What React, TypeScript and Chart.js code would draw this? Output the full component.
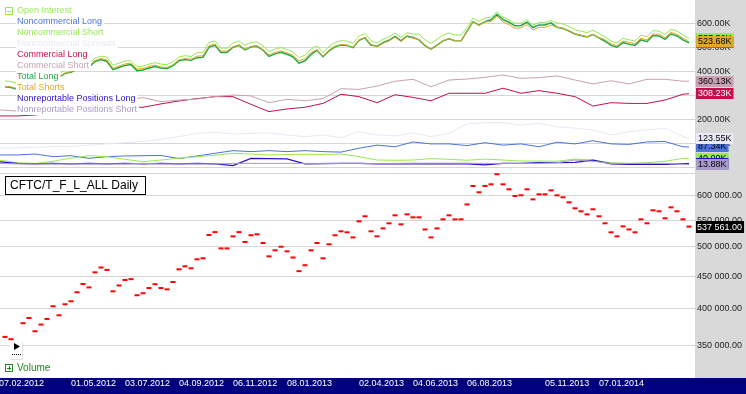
import React, { useEffect, useRef } from 'react';
import { Chart, registerables } from 'chart.js';

Chart.register(...registerables);

const FONT = '"Liberation Sans", Arial, sans-serif';

// Weekly open interest (thousands of contracts), one value per week index 0..114
const OPEN_INTEREST = [
  361.6, 358.6, 352.0, 379.8, 387.0, 369.0, 378.0, 385.7, 403.7, 390.8,
  406.6, 411.0, 424.5, 437.3, 432.0, 456.0, 464.0, 460.0, 426.0, 435.0,
  443.7, 445.0, 420.0, 423.0, 431.0, 437.0, 431.0, 429.0, 440.5, 461.0,
  466.0, 462.7, 477.9, 479.6, 521.5, 527.0, 497.0, 497.0, 519.0, 527.0,
  508.6, 521.0, 522.8, 506.7, 483.0, 493.6, 500.0, 491.8, 481.0, 458.0,
  467.8, 493.6, 506.7, 479.6, 504.4, 521.0, 528.5, 526.6, 517.0, 547.8,
  557.8, 528.5, 519.0, 534.0, 543.9, 559.7, 541.9, 561.7, 555.7, 555.7,
  532.0, 517.0, 534.0, 551.7, 559.7, 551.7, 551.7, 582.0, 622.0, 608.0,
  622.0, 625.7, 648.7, 625.7, 614.6, 600.0, 601.5, 614.6, 592.8, 603.6,
  603.6, 612.3, 601.5, 597.2, 586.5, 574.0, 567.9, 561.7, 572.0, 557.8,
  543.9, 526.6, 519.0, 538.0, 532.0, 526.6, 551.7, 543.9, 569.9, 567.9,
  553.8, 576.0, 567.9, 551.7, 537.561,
];

const TOTAL_SHORTS = [
  339.6, 336.6, 330.0, 357.8, 371.0, 353.0, 362.0, 369.7, 387.7, 378.8,
  394.6, 399.0, 412.5, 425.3, 422.0, 446.0, 454.0, 448.0, 414.0, 423.0,
  431.7, 435.0, 410.0, 413.0, 421.0, 427.0, 419.0, 417.0, 428.5, 449.0,
  454.0, 450.7, 463.9, 465.6, 507.5, 515.0, 485.0, 485.0, 503.0, 511.0,
  492.6, 505.0, 506.8, 490.7, 469.0, 479.6, 486.0, 477.8, 467.0, 444.0,
  453.8, 479.6, 490.7, 463.6, 488.4, 505.0, 512.5, 510.6, 501.0, 531.8,
  541.8, 512.5, 502.0, 517.0, 526.9, 542.7, 524.9, 544.7, 538.7, 532.7,
  509.0, 494.0, 511.0, 528.7, 536.7, 528.7, 528.7, 566.0, 606.0, 592.0,
  606.0, 607.7, 630.7, 605.7, 594.6, 580.0, 581.5, 594.6, 572.8, 583.6,
  583.6, 592.3, 584.5, 580.2, 569.5, 557.0, 550.9, 544.7, 555.0, 540.8,
  532.9, 515.6, 508.0, 527.0, 521.0, 515.6, 538.7, 530.9, 556.9, 554.9,
  540.8, 563.0, 554.9, 538.7, 523.68,
];

const TOTAL_LONG = [
  336.6, 333.6, 327.0, 354.8, 367.0, 349.0, 358.0, 365.7, 383.7, 376.8,
  392.6, 397.0, 410.5, 423.3, 418.0, 442.0, 450.0, 442.0, 408.0, 417.0,
  425.7, 429.0, 404.0, 407.0, 415.0, 421.0, 415.0, 413.0, 424.5, 445.0,
  450.0, 446.7, 457.9, 459.6, 501.5, 509.0, 479.0, 479.0, 501.0, 509.0,
  490.6, 503.0, 504.8, 488.7, 463.0, 473.6, 480.0, 471.8, 461.0, 435.0,
  444.8, 470.6, 488.7, 461.6, 486.4, 503.0, 510.5, 508.6, 499.0, 529.8,
  539.8, 510.5, 505.0, 520.0, 529.9, 545.7, 527.9, 547.7, 541.7, 531.7,
  508.0, 493.0, 510.0, 527.7, 535.7, 527.7, 527.7, 567.0, 607.0, 593.0,
  607.0, 614.7, 637.7, 615.7, 604.6, 590.0, 591.5, 604.6, 582.8, 593.6,
  593.6, 602.3, 583.5, 579.2, 568.5, 556.0, 549.9, 543.7, 554.0, 539.8,
  525.9, 508.6, 501.0, 520.0, 514.0, 508.6, 531.7, 523.9, 549.9, 547.9,
  533.8, 556.0, 547.9, 531.7, 519.12,
];

// Other series, read every third week (week indices below)
const SAMPLE_WEEKS = [
  -1, 2, 5, 8, 11, 14, 17, 20, 23, 26, 29, 32, 35, 38, 41, 44, 47, 50, 53, 56,
  59, 62, 65, 68, 71, 74, 77, 80, 83, 86, 89, 92, 95, 98, 101, 104, 107, 110, 113, 114,
];
const NONCOMM_LONG = [
  54, 54, 58, 47, 51, 40, 47, 50, 51, 52, 39, 50, 61, 72, 68, 72, 68, 72, 68, 66,
  82, 95, 88, 108, 100, 100, 93, 105, 95, 100, 88, 107, 100, 113, 100, 98, 108, 110, 88, 87.34,
];
const NONCOMM_SHORT = [
  33, 22, 19, 28, 41, 51, 47, 36, 26, 33, 41, 47, 53, 61, 58, 54, 56, 57, 56, 58,
  47, 33, 32, 33, 39, 36, 32, 37, 33, 29, 29, 28, 37, 33, 22, 19, 22, 28, 40, 40.0,
];
const NONCOMM_SPREADS = [
  82, 84, 86, 89, 89, 95, 100, 105, 111, 119, 130, 144, 148, 141, 144, 146, 137, 130, 137, 126,
  151, 137, 133, 146, 130, 144, 183, 188, 188, 178, 185, 171, 165, 158, 137, 151, 158, 165, 130, 123.55,
];
const COMM_LONG = [
  216, 216, 220, 228, 236, 243, 248, 252, 252, 266, 278, 288, 296, 296, 264, 234, 245, 252, 268, 306,
  296, 271, 304, 293, 279, 310, 310, 310, 331, 310, 321, 310, 296, 257, 271, 268, 268, 282, 306, 308.23,
];
const COMM_SHORT = [
  241, 236, 245, 252, 262, 272, 276, 282, 292, 275, 282, 286, 296, 303, 299, 271, 285, 279, 288, 329,
  326, 340, 360, 368, 337, 365, 369, 376, 386, 372, 375, 382, 365, 349, 362, 349, 368, 368, 360, 360.13,
];
const NONREP_LONG = [
  26, 19, 17, 19, 17, 19, 17, 19, 17, 19, 17, 19, 17, 10, 40, 39, 38, 17, 18, 19,
  19, 17, 18, 17, 17, 17, 17, 13, 19, 19, 22, 22, 23, 33, 17, 15, 15, 15, 18, 18.44,
];
const NONREP_SHORT = [
  19, 17, 17, 17, 17, 17, 17, 17, 19, 17, 17, 17, 17, 19, 19, 19, 19, 19, 19, 19,
  19, 19, 19, 20, 20, 20, 20, 19, 19, 19, 19, 22, 33, 28, 19, 19, 19, 19, 16, 13.88,
];

// Date labels on the time axis (week index where each label starts)
const DATE_TICK_WEEKS = [-1, 11, 20, 29, 38, 47, 59, 68, 77, 90, 99];
const DATE_TICK_LABELS = [
  '07.02.2012', '01.05.2012', '03.07.2012', '04.09.2012', '06.11.2012', '08.01.2013',
  '02.04.2013', '04.06.2013', '06.08.2013', '05.11.2013', '07.01.2014',
];

const TOP_TICKS = [0, 100, 200, 300, 400, 500, 600];
const BOTTOM_TICKS = [350, 400, 450, 500, 550, 600, 650];

const WEEKS = OPEN_INTEREST.map((_, i) => i);

type Series = { name: string; color: string; tagText: string; width: number; weeks: number[]; values: number[] };

const SERIES: Series[] = [
  { name: 'Open Interest', color: '#96EA52', tagText: '#000', width: 1, weeks: WEEKS, values: OPEN_INTEREST },
  { name: 'Noncommercial Long', color: '#4D72DA', tagText: '#000', width: 1, weeks: SAMPLE_WEEKS, values: NONCOMM_LONG },
  { name: 'Noncommercial Short', color: '#96EA52', tagText: '#000', width: 1, weeks: SAMPLE_WEEKS, values: NONCOMM_SHORT },
  { name: 'Noncommercial Spreads', color: '#E8E8F6', tagText: '#000', width: 1, weeks: SAMPLE_WEEKS, values: NONCOMM_SPREADS },
  { name: 'Commercial Long', color: '#C2104C', tagText: '#FFF', width: 1, weeks: SAMPLE_WEEKS, values: COMM_LONG },
  { name: 'Commercial Short', color: '#C9A1B3', tagText: '#000', width: 1, weeks: SAMPLE_WEEKS, values: COMM_SHORT },
  { name: 'Total Long', color: '#22A644', tagText: '#000', width: 1.5, weeks: WEEKS, values: TOTAL_LONG },
  { name: 'Total Shorts', color: '#E2A929', tagText: '#000', width: 1, weeks: WEEKS, values: TOTAL_SHORTS },
  { name: 'Nonreportable Positions Long', color: '#2A12C2', tagText: '#FFF', width: 1.2, weeks: SAMPLE_WEEKS, values: NONREP_LONG },
  { name: 'Nonreportable Positions Short', color: '#AA9ACA', tagText: '#000', width: 1, weeks: SAMPLE_WEEKS, values: NONREP_SHORT },
];

const fmtK = (v: number) => v.toFixed(2) + 'K';
const fmtFull = (vK: number) => {
  const n = Math.round(vK * 1000);
  const th = Math.floor(n / 1000);
  const rest = String(n % 1000).padStart(3, '0');
  return (th > 0 ? th + ' ' + rest : String(n % 1000)) + '.00';
};

const zeroPad = (s: any) => {
  s.paddingTop = 0;
  s.paddingBottom = 0;
  s.paddingLeft = 0;
  s.paddingRight = 0;
};

const decorPlugin = {
  id: 'decor',
  beforeDraw(chart: any) {
    const { ctx, chartArea, scales } = chart;
    const xs = scales.x;
    ctx.save();
    ctx.fillStyle = '#FFFFFF';
    ctx.fillRect(0, 0, chart.width, chart.height);
    ctx.fillStyle = '#D9D9D9';
    ctx.fillRect(chartArea.right, 0, chart.width - chartArea.right, xs.top);
    ctx.fillStyle = '#000080';
    ctx.fillRect(0, xs.top, chart.width, chart.height - xs.top);
    ctx.restore();
  },
  afterDatasetsDraw(chart: any) {
    const { ctx } = chart;
    ctx.save();
    // legend of the upper panel
    ctx.font = `9px ${FONT}`;
    ctx.textBaseline = 'middle';
    SERIES.forEach((s, i) => {
      const top = 5 + 11 * i;
      const w = ctx.measureText(s.name).width;
      ctx.fillStyle = '#FFFFFF';
      ctx.fillRect(16, top, w + 3, 11);
      ctx.fillStyle = s.color;
      ctx.fillText(s.name, 17, top + 6);
    });
    // collapse box
    ctx.strokeStyle = '#96EA52';
    ctx.lineWidth = 1;
    ctx.strokeRect(5.5, 7.5, 7, 7);
    ctx.beginPath();
    ctx.moveTo(7, 11.5);
    ctx.lineTo(11, 11.5);
    ctx.stroke();

    // title box of the lower panel
    ctx.fillStyle = '#FFFFFF';
    ctx.fillRect(5, 176, 141, 19);
    ctx.strokeStyle = '#000000';
    ctx.strokeRect(5.5, 176.5, 140, 18);
    ctx.font = `12px ${FONT}`;
    ctx.fillStyle = '#000000';
    ctx.fillText('CFTC/T_F_L_ALL Daily', 10, 186);

    // play button
    ctx.fillStyle = '#FFFFFF';
    ctx.fillRect(10, 341, 13, 18);
    ctx.strokeStyle = '#E4E4E4';
    ctx.beginPath();
    ctx.moveTo(22.5, 341);
    ctx.lineTo(22.5, 359.5);
    ctx.lineTo(10, 359.5);
    ctx.stroke();
    ctx.fillStyle = '#000000';
    ctx.beginPath();
    ctx.moveTo(14, 343);
    ctx.lineTo(20, 346.5);
    ctx.lineTo(14, 350);
    ctx.closePath();
    ctx.fill();
    for (let x = 12; x <= 20; x += 2) ctx.fillRect(x, 354, 1, 1);

    // collapsed volume pane
    ctx.strokeStyle = '#1E8A1E';
    ctx.strokeRect(5.5, 364.5, 7, 7);
    ctx.beginPath();
    ctx.moveTo(7, 368.5);
    ctx.lineTo(11, 368.5);
    ctx.moveTo(9.5, 366);
    ctx.lineTo(9.5, 370);
    ctx.stroke();
    ctx.font = `10px ${FONT}`;
    ctx.fillStyle = '#1E8A1E';
    ctx.fillText('Volume', 17, 368.5);
    ctx.restore();
  },
  afterDraw(chart: any) {
    const { ctx, chartArea, scales } = chart;
    const yTop = scales.yTop;
    const yBot = scales.yBot;
    const x0 = chartArea.right + 1;
    ctx.save();
    ctx.font = `9px ${FONT}`;
    ctx.textBaseline = 'middle';
    SERIES.forEach((s) => {
      const v = s.values[s.values.length - 1];
      const y = yTop.getPixelForValue(v);
      const txt = fmtK(v);
      const w = ctx.measureText(txt).width + 4;
      ctx.fillStyle = s.color;
      ctx.fillRect(x0, Math.round(y - 5.5), w, 11);
      ctx.fillStyle = s.tagText;
      ctx.fillText(txt, x0 + 2, Math.round(y - 5.5) + 6);
    });
    const last = OPEN_INTEREST[OPEN_INTEREST.length - 1];
    const yb = yBot.getPixelForValue(last);
    const t = fmtFull(last);
    const wb = ctx.measureText(t).width + 3;
    ctx.fillStyle = '#000000';
    ctx.fillRect(x0, Math.round(yb - 6), wb, 12);
    ctx.fillStyle = '#FFFFFF';
    ctx.fillText(t, x0 + 1, Math.round(yb - 6) + 6.5);
    ctx.restore();
  },
};

export default function App() {
  const ref = useRef<HTMLCanvasElement | null>(null);

  useEffect(() => {
    if (!ref.current) return;
    const lineSets = SERIES.map((s, i) => ({
      type: 'line' as const,
      label: s.name,
      data: s.values.map((v, k) => ({ x: s.weeks[k], y: v })),
      borderColor: s.color,
      backgroundColor: s.color,
      borderWidth: s.width,
      pointRadius: 0,
      tension: 0,
      fill: false,
      xAxisID: 'x',
      yAxisID: 'yTop',
      order: 20 - i,
    }));
    const dashSet = {
      type: 'line' as const,
      label: 'Open Interest (weekly)',
      data: OPEN_INTEREST.map((v, i) => ({ x: WEEKS[i], y: v })),
      showLine: false,
      pointStyle: 'line',
      pointRadius: 2.5,
      pointBorderWidth: 2,
      pointBorderColor: '#FF0000',
      pointBackgroundColor: '#FF0000',
      borderColor: '#FF0000',
      xAxisID: 'x',
      yAxisID: 'yBot',
      order: 1,
    };

    const gridColor = '#D6D6D6';
    const tickFont = { family: FONT, size: 9 };

    const chart = new Chart(ref.current, {
      type: 'line',
      data: { datasets: [...lineSets, dashSet] as any },
      options: {
        responsive: false,
        devicePixelRatio: 1,
        animation: false,
        events: [],
        parsing: false as any,
        normalized: true,
        layout: { padding: 0, autoPadding: false },
        plugins: { legend: { display: false }, tooltip: { enabled: false }, title: { display: false } },
        scales: {
          yTop: {
            type: 'linear',
            position: 'right',
            stack: 'panes',
            stackWeight: 169,
            min: -4.15,
            max: 697,
            bounds: 'data',
            afterFit: (s: any) => { s.width = 51; zeroPad(s); },
            afterBuildTicks: (s: any) => { s.ticks = TOP_TICKS.map((v) => ({ value: v })); },
            grid: { color: gridColor, lineWidth: 1, drawTicks: false },
            border: { display: false },
            ticks: {
              padding: 2,
              color: '#222222',
              font: tickFont,
              callback: (v: any) => (v === 0 ? '' : fmtK(Number(v))),
            },
          },
          yBot: {
            type: 'logarithmic',
            position: 'right',
            stack: 'panes',
            stackWeight: 190,
            min: 334,
            max: 661.1,
            bounds: 'data',
            afterFit: (s: any) => { s.width = 51; zeroPad(s); },
            afterBuildTicks: (s: any) => { s.ticks = BOTTOM_TICKS.map((v) => ({ value: v })); },
            grid: { color: gridColor, lineWidth: 1, drawTicks: false },
            border: { display: false },
            ticks: {
              padding: 2,
              color: '#222222',
              font: tickFont,
              callback: (v: any) => (Number(v) >= 650 ? '' : fmtFull(Number(v))),
            },
          },
          yVol: {
            type: 'linear',
            position: 'right',
            stack: 'panes',
            stackWeight: 19,
            min: 0,
            max: 1,
            afterFit: (s: any) => { s.width = 51; zeroPad(s); },
            grid: { display: false, drawTicks: false },
            border: { display: false },
            ticks: { display: false },
          },
          x: {
            type: 'linear',
            position: 'bottom',
            min: -5 / 6,
            max: 115,
            bounds: 'data',
            afterFit: (s: any) => { s.height = 16; zeroPad(s); },
            afterBuildTicks: (s: any) => { s.ticks = DATE_TICK_WEEKS.map((v) => ({ value: v })); },
            grid: { display: false, drawTicks: false },
            border: { display: false },
            ticks: {
              autoSkip: false,
              maxRotation: 0,
              minRotation: 0,
              align: 'start',
              padding: 0,
              color: '#FFFFFF',
              font: tickFont,
              callback: (v: any) => {
                const k = DATE_TICK_WEEKS.indexOf(Number(v));
                return k >= 0 ? DATE_TICK_LABELS[k] : '';
              },
            },
          },
        } as any,
      },
      plugins: [decorPlugin],
    });
    return () => chart.destroy();
  }, []);

  return (
    <div style={{ position: 'fixed', left: 0, top: 0, width: 746, height: 394 }}>
      <canvas ref={ref} width={746} height={394} style={{ display: 'block', width: 746, height: 394 }} />
    </div>
  );
}
